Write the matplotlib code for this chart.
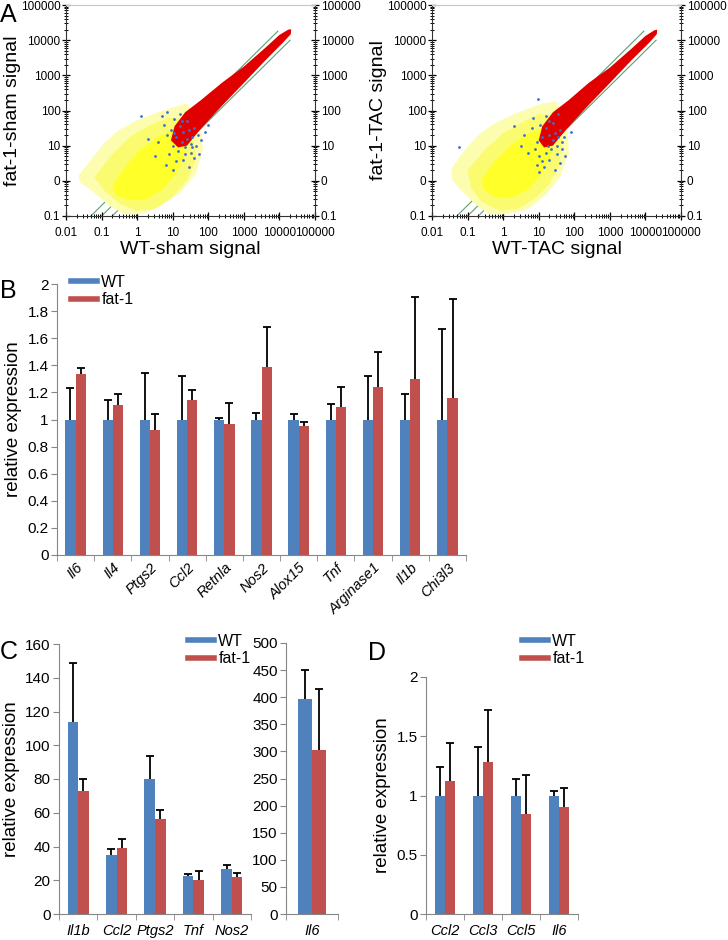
import numpy as np
import matplotlib
matplotlib.use("Agg")
import matplotlib.pyplot as plt
from matplotlib.lines import Line2D
from matplotlib.ticker import LogLocator, NullFormatter

plt.rcParams['font.family'] = ['Liberation Sans', 'DejaVu Sans']

WT_COLOR = '#4F81BD'
FAT_COLOR = '#C0504D'
AXIS_GRAY = '#868686'

# -------------------------------
# Panel A data (log10 values)
# -------------------------------
a_x_ticks = [0.01, 0.1, 1, 10, 100, 1000, 10000, 100000]
a_x_labels = ['0.01', '0.1', '1', '10', '100', '1000', '10000', '100000']
a_y_ticks = [0.1, 1, 10, 100, 1000, 10000, 100000]
a_y_labels = ['0.1', '0', '10', '100', '1000', '10000', '100000']

# green fold-change lines: ratio, start x, end x
line_ratios = [2, 1, 0.5]
line_starts = [0.05, 0.1, 0.2]
line_ends = [9000, 15000, 20000]

# sham panel
sham_yellow_out_x = [-1.65, -1.3, -0.9, -0.5, 0.0, 0.5, 1.0, 1.4, 1.75, 1.85, 1.65, 1.25, 0.7, 0.1, -0.35, -0.8, -1.25, -1.6]
sham_yellow_out_y = [0.15, 0.6, 1.1, 1.45, 1.72, 1.92, 2.08, 2.2, 1.6, 0.9, 0.2, -0.3, -0.7, -0.95, -0.95, -0.7, -0.3, -0.05]
sham_yellow_mid_x = [-1.2, -0.7, -0.2, 0.4, 0.9, 1.3, 1.6, 1.65, 1.4, 1.0, 0.5, 0.0, -0.5, -0.9]
sham_yellow_mid_y = [0.1, 0.75, 1.25, 1.6, 1.8, 1.75, 1.2, 0.6, 0.0, -0.45, -0.8, -0.85, -0.65, -0.3]
sham_yellow_in_x = [-0.7, -0.3, 0.1, 0.6, 1.0, 1.25, 1.35, 1.1, 0.7, 0.2, -0.25, -0.6]
sham_yellow_in_y = [-0.15, 0.45, 0.9, 1.25, 1.45, 1.25, 0.8, 0.2, -0.25, -0.55, -0.55, -0.4]
sham_red_x = [0.95, 1.05, 1.35, 1.8, 2.4, 3.0, 3.6, 4.0, 4.25, 4.33, 4.32, 4.1, 3.6, 3.0, 2.4, 1.9, 1.6, 1.4, 1.15]
sham_red_y = [1.15, 1.55, 1.95, 2.3, 2.8, 3.25, 3.78, 4.15, 4.3, 4.31, 4.17, 3.93, 3.42, 2.78, 2.15, 1.6, 1.25, 1.0, 0.95]
sham_blue_x = [0.10, 0.75, 0.85, 0.95, 1.0, 1.05, 1.1, 1.15, 1.2, 1.25, 1.3, 1.3, 1.35, 1.4, 1.45, 1.5, 1.5, 1.55,
               1.6, 1.65, 1.7, 1.75, 1.8, 0.9, 0.6, 0.5, 1.0, 1.2, 0.85, 1.4, 1.6, 1.9, 2.0, 0.3, 1.1, 0.7,
               1.25, 1.45, 1.05, 1.35, 0.8, 1.55]
sham_blue_y = [1.84, 1.6, 1.3, 1.45, 1.0, 1.75, 1.25, 0.85, 1.55, 1.1, 0.6, 1.4, 0.95, 1.2, 0.4, 0.8, 1.05, 1.25,
               0.65, 1.0, 1.3, 0.75, 1.15, 0.75, 1.1, 0.7, 0.3, 1.9, 1.95, 1.7, 1.5, 1.4, 1.6, 1.2, 0.55, 1.85,
               1.7, 1.45, 1.35, 0.75, 0.45, 0.95]

# TAC panel
tac_yellow_out_x = [-1.45, -1.1, -0.7, -0.3, 0.2, 0.7, 1.1, 1.5, 1.8, 1.85, 1.6, 1.2, 0.7, 0.1, -0.4, -0.8, -1.2, -1.45]
tac_yellow_out_y = [0.35, 0.85, 1.3, 1.6, 1.85, 2.05, 2.2, 2.25, 1.6, 0.8, 0.1, -0.4, -0.8, -0.95, -0.95, -0.65, -0.25, 0.05]
tac_yellow_mid_x = [-1.0, -0.5, 0.0, 0.6, 1.0, 1.4, 1.65, 1.6, 1.3, 0.9, 0.4, -0.1, -0.6, -0.9]
tac_yellow_mid_y = [0.3, 0.9, 1.35, 1.7, 1.9, 1.85, 1.2, 0.5, -0.1, -0.5, -0.8, -0.85, -0.6, -0.2]
tac_yellow_in_x = [-0.6, -0.2, 0.2, 0.7, 1.1, 1.3, 1.35, 1.1, 0.7, 0.2, -0.25, -0.55]
tac_yellow_in_y = [0.05, 0.6, 1.0, 1.35, 1.5, 1.3, 0.8, 0.2, -0.25, -0.5, -0.45, -0.25]
tac_red_x = [1.0, 1.1, 1.4, 1.85, 2.4, 3.0, 3.6, 4.0, 4.25, 4.33, 4.32, 4.1, 3.6, 3.0, 2.4, 1.9, 1.6, 1.4, 1.15]
tac_red_y = [1.15, 1.55, 1.95, 2.3, 2.78, 3.22, 3.75, 4.12, 4.28, 4.3, 4.17, 3.92, 3.42, 2.78, 2.15, 1.6, 1.25, 1.0, 0.95]
tac_blue_x = [-1.23, 0.97, 0.6, 0.8, 0.95, 1.0, 1.05, 1.1, 1.15, 1.2, 1.25, 1.3, 1.3, 1.35, 1.4, 1.45, 1.5, 1.5,
              1.55, 1.6, 1.65, 1.7, 1.75, 0.9, 0.5, 1.0, 1.2, 0.85, 1.4, 1.6, 1.9, 0.3, 1.1, 0.7, 1.55, 1.3,
              1.45, 1.2, 0.95, 1.65]
tac_blue_y = [0.97, 2.32, 1.3, 1.5, 1.1, 0.7, 1.6, 1.25, 0.4, 1.5, 1.0, 0.6, 1.3, 0.9, 1.15, 0.3, 0.75, 1.0,
              1.25, 0.5, 0.9, 1.25, 0.7, 0.9, 1.0, 0.25, 1.85, 1.8, 1.65, 1.45, 1.4, 1.55, 0.55, 0.8, 1.9, 1.7,
              1.35, 0.8, 0.45, 1.1]

# -------------------------------
# Panel B data
# -------------------------------
b_genes = ['Il6', 'Il4', 'Ptgs2', 'Ccl2', 'Retnla', 'Nos2', 'Alox15', 'Tnf', 'Arginase1', 'Il1b', 'Chi3l3']
b_wt = [1, 1, 1, 1, 1, 1, 1, 1, 1, 1, 1]
b_wt_top = [1.233, 1.147, 1.343, 1.32, 1.012, 1.046, 1.04, 1.115, 1.32, 1.186, 1.667]
b_fat = [1.333, 1.105, 0.926, 1.147, 0.97, 1.39, 0.95, 1.09, 1.243, 1.30, 1.159]
b_fat_top = [1.382, 1.186, 1.04, 1.218, 1.125, 1.685, 0.985, 1.237, 1.50, 1.907, 1.89]

# -------------------------------
# Panel C data
# -------------------------------
c_genes = ['Il1b', 'Ccl2', 'Ptgs2', 'Tnf', 'Nos2']
c_wt = [114, 34.7, 80.2, 22.3, 26.5]
c_wt_top = [148.6, 38.7, 93.6, 23.5, 29.0]
c_fat = [73.1, 38.9, 56.1, 20.1, 22.1]
c_fat_top = [80.0, 44.2, 61.6, 25.5, 24.5]

c2_genes = ['Il6']
c2_wt = [397]
c2_wt_top = [450]
c2_fat = [302]
c2_fat_top = [416]

# -------------------------------
# Panel D data
# -------------------------------
d_genes = ['Ccl2', 'Ccl3', 'Ccl5', 'Il6']
d_wt = [1, 1, 1, 1]
d_wt_top = [1.239, 1.407, 1.138, 1.034]
d_fat = [1.126, 1.284, 0.846, 0.902]
d_fat_top = [1.444, 1.719, 1.171, 1.067]


def scatter_panel(ax, yo, ym, yi, red, blue, xlabel, ylabel):
    ax.set_xscale('log')
    ax.set_yscale('log')
    for k, x0, x1 in zip(line_ratios, line_starts, line_ends):
        ax.plot([x0, x1], [k * x0, k * x1], color='#5f9e74', lw=0.8, zorder=1)
    ax.fill(10 ** np.array(yo[0]), 10 ** np.array(yo[1]), color='#fdfdb0', lw=0, zorder=2)
    ax.fill(10 ** np.array(ym[0]), 10 ** np.array(ym[1]), color='#fbfb70', lw=0, zorder=2)
    ax.fill(10 ** np.array(yi[0]), 10 ** np.array(yi[1]), color='#ffff2a', lw=0, zorder=3)
    ax.fill(10 ** np.array(red[0]), 10 ** np.array(red[1]), color='#e00000', lw=0, zorder=4)
    ax.scatter(10 ** np.array(blue[0]), 10 ** np.array(blue[1]), s=4, color='#3f6fc4', lw=0, zorder=5)
    ax.set_xlim(0.01, 1e5)
    ax.set_ylim(0.1, 1e5)
    ax.set_xticks(a_x_ticks)
    ax.set_xticklabels(a_x_labels)
    ax.set_yticks(a_y_ticks)
    ax.set_yticklabels(a_y_labels)
    for axis in (ax.xaxis, ax.yaxis):
        axis.set_minor_locator(LogLocator(base=10, subs=range(2, 10), numticks=20))
        axis.set_minor_formatter(NullFormatter())
    ax.tick_params(which='both', direction='inout', left=True, right=True, labelright=True,
                   top=False, labelsize=8.5)
    ax.tick_params(axis='y', pad=1)
    ax.tick_params(axis='x', pad=5)
    ax.tick_params(which='major', length=6, width=0.9)
    ax.tick_params(which='minor', length=3, width=0.7)
    ax.spines['top'].set_color('#c8c8c8')
    for s in ('left', 'right', 'bottom'):
        ax.spines[s].set_color('#333333')
    ax.set_xlabel(xlabel, fontsize=14, labelpad=1)
    ax.set_ylabel(ylabel, fontsize=14, labelpad=0)


def bar_panel(ax, genes, wt, wt_top, fat, fat_top, ymax, ystep, rotate=False, labelsize=10.5):
    x = np.arange(len(genes))
    w = 0.275
    ax.bar(x - w / 2, wt, w, color=WT_COLOR, zorder=2)
    ax.bar(x + w / 2, fat, w, color=FAT_COLOR, zorder=2)
    for pos, vals, tops in ((x - w / 2, wt, wt_top), (x + w / 2, fat, fat_top)):
        up = np.array(tops) - np.array(vals)
        eb = ax.errorbar(pos, vals, yerr=[np.zeros(len(vals)), up], fmt='none', ecolor='black',
                         elinewidth=1.3, capsize=3.2, capthick=1.3, zorder=3)
        eb[1][0].set_visible(False)
    ax.set_xlim(-0.5, len(genes) - 0.5)
    ax.set_ylim(0, ymax)
    ax.set_yticks(np.arange(0, ymax + ystep / 2, ystep))
    ax.yaxis.set_major_formatter(matplotlib.ticker.FormatStrFormatter('%g'))
    ax.set_xticks(x)
    if rotate:
        ax.set_xticklabels(genes, rotation=45, ha='right', va='top', rotation_mode='anchor',
                           style='italic', fontsize=labelsize)
        ax.tick_params(axis='x', which='major', length=0, pad=4)
    else:
        ax.set_xticklabels(genes, style='italic', fontsize=labelsize)
        ax.tick_params(axis='x', which='major', length=0, pad=7)
    ax.set_xticks(np.arange(-0.5, len(genes), 1), minor=True)
    ax.tick_params(axis='x', which='minor', length=4, color=AXIS_GRAY, direction='out')
    ax.tick_params(axis='y', length=4, color=AXIS_GRAY, direction='out', labelsize=11, pad=2)
    for s in ('top', 'right'):
        ax.spines[s].set_visible(False)
    for s in ('left', 'bottom'):
        ax.spines[s].set_color(AXIS_GRAY)


def add_legend(fig, x, y):
    handles = [Line2D([], [], color=WT_COLOR, lw=4), Line2D([], [], color=FAT_COLOR, lw=4)]
    fig.legend(handles, ['WT', 'fat-1'], loc='upper left', bbox_to_anchor=(x, y), frameon=False,
               fontsize=11.5, handlelength=1.6, handletextpad=0.3, labelspacing=0.15, borderpad=0,
               borderaxespad=0)


fig = plt.figure(figsize=(7.28, 9.40), dpi=100)
W, H = 728.0, 940.0


def axes_px(x0, x1, y0, y1):
    return fig.add_axes([x0 / W, 1 - y1 / H, (x1 - x0) / W, (y1 - y0) / H])


ax_a1 = axes_px(66, 315, 5, 216)
scatter_panel(ax_a1, (sham_yellow_out_x, sham_yellow_out_y), (sham_yellow_mid_x, sham_yellow_mid_y),
              (sham_yellow_in_x, sham_yellow_in_y), (sham_red_x, sham_red_y), (sham_blue_x, sham_blue_y),
              'WT-sham signal', 'fat-1-sham signal')

ax_a2 = axes_px(432, 681, 5, 216)
scatter_panel(ax_a2, (tac_yellow_out_x, tac_yellow_out_y), (tac_yellow_mid_x, tac_yellow_mid_y),
              (tac_yellow_in_x, tac_yellow_in_y), (tac_red_x, tac_red_y), (tac_blue_x, tac_blue_y),
              'WT-TAC signal', 'fat-1-TAC signal')

ax_b = axes_px(57, 466, 284, 555)
bar_panel(ax_b, b_genes, b_wt, b_wt_top, b_fat, b_fat_top, 2, 0.2, rotate=True)
ax_b.set_ylabel('relative expression', fontsize=13.5, labelpad=4)
add_legend(fig, 71 / W, 1 - 275 / H)

ax_c1 = axes_px(59, 251, 644, 914)
bar_panel(ax_c1, c_genes, c_wt, c_wt_top, c_fat, c_fat_top, 160, 20)
ax_c1.set_ylabel('relative expression', fontsize=13.5, labelpad=4)
add_legend(fig, 188 / W, 1 - 634 / H)

ax_c2 = axes_px(286, 338, 643, 914)
bar_panel(ax_c2, c2_genes, c2_wt, c2_wt_top, c2_fat, c2_fat_top, 500, 50)

ax_d = axes_px(426, 578, 677, 914)
bar_panel(ax_d, d_genes, d_wt, d_wt_top, d_fat, d_fat_top, 2, 0.5)
ax_d.set_ylabel('relative expression', fontsize=13.5, labelpad=4)
add_legend(fig, 522 / W, 1 - 634 / H)

for letter, px, py in (('A', 0, 3), ('B', 0, 279), ('C', 0, 640), ('D', 368, 641)):
    fig.text(px / W, 1 - py / H, letter, fontsize=18, ha='left', va='top')

fig.savefig('out.png', dpi=100)
